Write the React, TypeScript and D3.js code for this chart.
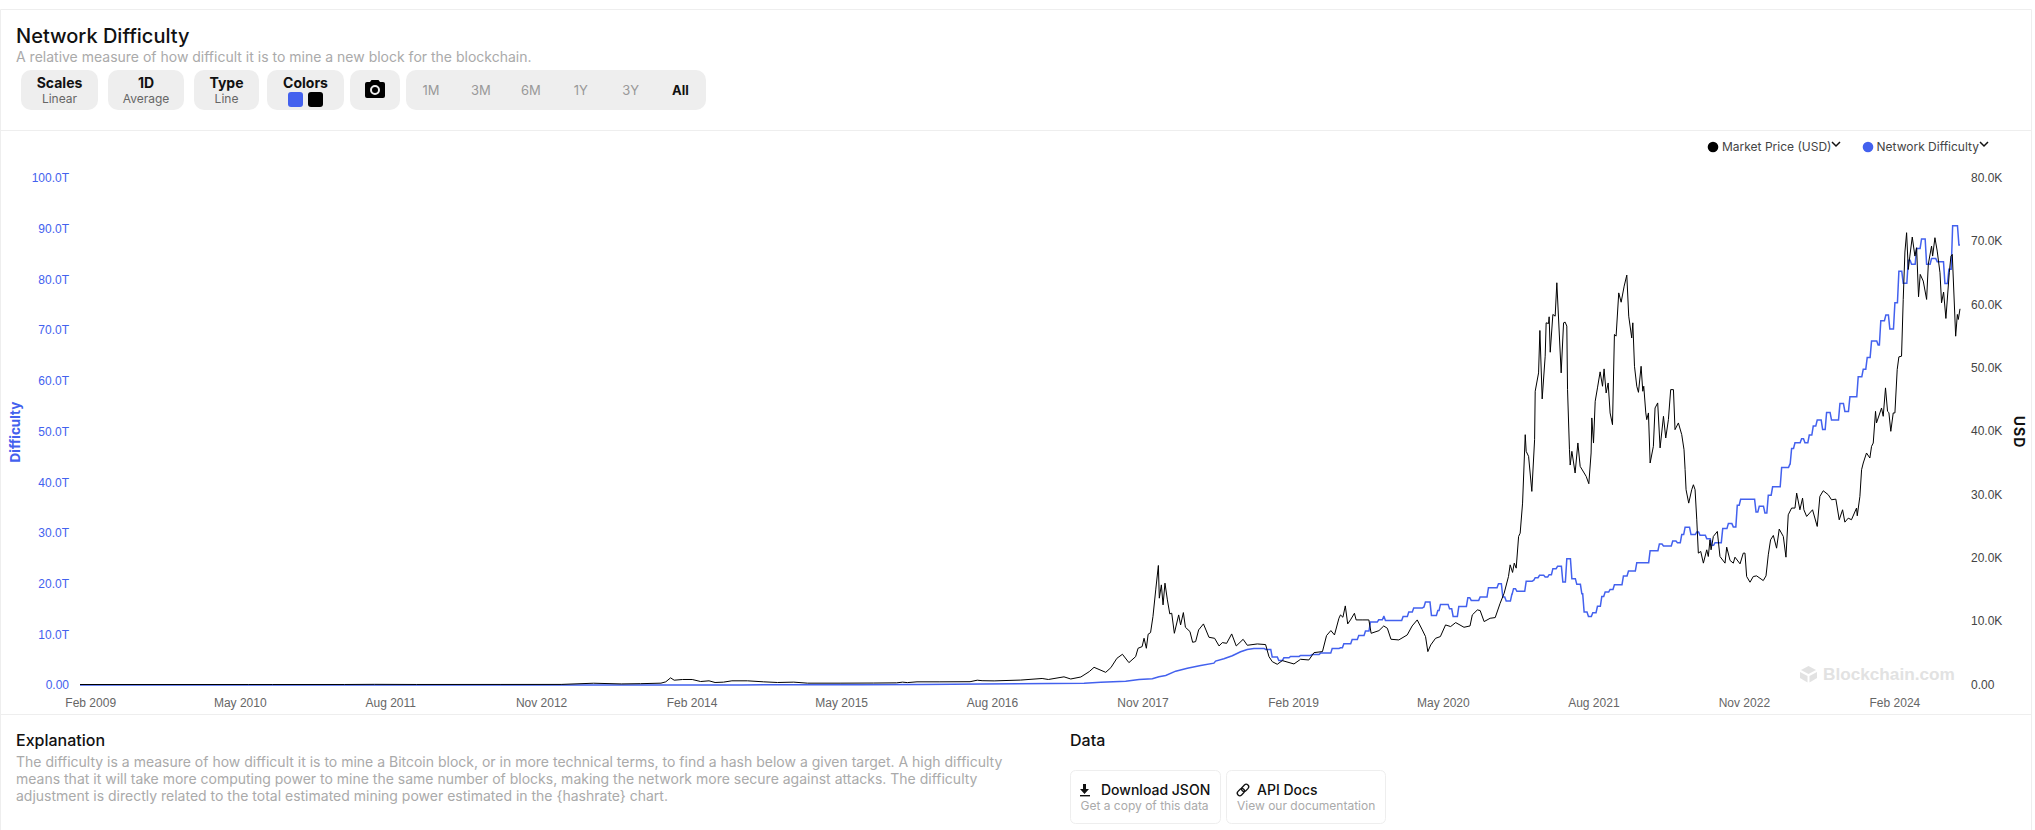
import * as React from 'react';
import * as d3 from 'd3';
import { useRef, useEffect } from 'react';

// Dates are kept as decimal years
const priceYears = [
  2009.0, 2010.4, 2010.6, 2011.2, 2011.45, 2011.8, 2012.5, 2013.0, 2013.27, 2013.5, 2013.66, 2013.83, 2013.87, 2013.91, 2013.94,
  2014.01, 2014.09, 2014.16, 2014.23, 2014.28, 2014.35, 2014.42, 2014.55, 2014.685, 2014.8, 2014.935, 2015.05, 2015.32, 2015.6, 2015.79,
  2015.84, 2015.88, 2015.96, 2016.15, 2016.4, 2016.46, 2016.5, 2016.6, 2016.82, 2016.998, 2017.05, 2017.18, 2017.236, 2017.32, 2017.39,
  2017.43, 2017.527, 2017.57, 2017.62, 2017.666, 2017.72, 2017.776, 2017.796, 2017.83, 2017.846, 2017.865, 2017.88, 2017.9, 2017.92, 2017.943,
  2017.965, 2017.973, 2017.99, 2018.004, 2018.02, 2018.04, 2018.06, 2018.076, 2018.098, 2018.134, 2018.15, 2018.173, 2018.19, 2018.228, 2018.25,
  2018.275, 2018.3, 2018.34, 2018.386, 2018.433, 2018.47, 2018.497, 2018.533, 2018.575, 2018.613, 2018.67, 2018.705, 2018.788, 2018.857, 2018.885,
  2018.913, 2018.954, 2018.996, 2019.093, 2019.148, 2019.217, 2019.26, 2019.33, 2019.364, 2019.4, 2019.43, 2019.467, 2019.48, 2019.5, 2019.52,
  2019.54, 2019.563, 2019.596, 2019.61, 2019.66, 2019.716, 2019.735, 2019.8, 2019.84, 2019.87, 2019.9, 2019.965, 2020.035, 2020.076, 2020.118,
  2020.16, 2020.187, 2020.206, 2020.23, 2020.27, 2020.31, 2020.353, 2020.395, 2020.437, 2020.506, 2020.556, 2020.575, 2020.617, 2020.64, 2020.673,
  2020.723, 2020.765, 2020.806, 2020.839, 2020.875, 2020.889, 2020.909, 2020.923, 2020.939, 2020.959, 2020.972, 2020.992, 2021.014, 2021.022, 2021.042,
  2021.069, 2021.092, 2021.097, 2021.125, 2021.136, 2021.155, 2021.18, 2021.188, 2021.208, 2021.213, 2021.222, 2021.244, 2021.263, 2021.277, 2021.313,
  2021.333, 2021.346, 2021.36, 2021.366, 2021.382, 2021.388, 2021.402, 2021.429, 2021.452, 2021.471, 2021.521, 2021.543, 2021.562, 2021.568, 2021.582,
  2021.596, 2021.615, 2021.637, 2021.657, 2021.67, 2021.687, 2021.704, 2021.72, 2021.74, 2021.756, 2021.77, 2021.792, 2021.812, 2021.837, 2021.859,
  2021.875, 2021.9, 2021.909, 2021.923, 2021.942, 2021.956, 2021.978, 2021.992, 2022.0, 2022.017, 2022.025, 2022.039, 2022.053, 2022.08, 2022.094,
  2022.116, 2022.136, 2022.164, 2022.183, 2022.205, 2022.224, 2022.247, 2022.26, 2022.288, 2022.316, 2022.335, 2022.344, 2022.352, 2022.374, 2022.399,
  2022.413, 2022.427, 2022.441, 2022.454, 2022.474, 2022.496, 2022.524, 2022.537, 2022.551, 2022.56, 2022.579, 2022.612, 2022.634, 2022.676, 2022.69,
  2022.718, 2022.745, 2022.759, 2022.801, 2022.828, 2022.842, 2022.856, 2022.884, 2022.911, 2022.939, 2022.994, 2023.017, 2023.036, 2023.055, 2023.078,
  2023.105, 2023.127, 2023.161, 2023.183, 2023.202, 2023.23, 2023.258, 2023.272, 2023.299, 2023.321, 2023.332, 2023.355, 2023.404, 2023.443, 2023.465,
  2023.493, 2023.535, 2023.562, 2023.598, 2023.626, 2023.654, 2023.673, 2023.701, 2023.728, 2023.77, 2023.776, 2023.798, 2023.812, 2023.826, 2023.853,
  2023.881, 2023.895, 2023.909, 2023.928, 2023.936, 2023.978, 2023.992, 2024.011, 2024.028, 2024.039, 2024.055, 2024.075, 2024.089, 2024.108, 2024.122,
  2024.144, 2024.158, 2024.172, 2024.186, 2024.2, 2024.213, 2024.233, 2024.255, 2024.269, 2024.285, 2024.299, 2024.324, 2024.352, 2024.366, 2024.393,
  2024.402, 2024.421, 2024.44, 2024.463, 2024.476, 2024.493, 2024.512, 2024.54, 2024.554, 2024.565, 2024.593, 2024.607, 2024.615, 2024.629,
];

const priceValues = [
  0, 0, 0.07, 1, 25, 3, 8, 14, 200, 90, 130, 210, 420, 1050, 680,
  790, 790, 470, 580, 316, 370, 580, 580, 420, 316, 370, 210, 210, 230, 260,
  370, 300, 420, 420, 440, 680, 600, 570, 700, 950, 790, 1210, 870, 1185, 2030,
  2710, 1920, 2660, 4130, 4770, 3450, 4400, 5715, 5980, 7300, 5715, 7930, 8190, 10720, 14930,
  18780, 13620, 15720, 12560, 15990, 13350, 11140, 11250, 8080, 10980, 9400, 11350, 9030, 8350, 6660,
  6770, 8610, 9560, 7450, 7290, 6080, 6610, 6500, 7980, 6080, 7130, 6190, 6400, 6300, 4400,
  3600, 3190, 3770, 3240, 3980, 3870, 5030, 5190, 7720, 8510, 7820, 10450, 10980, 10610, 12400,
  9560, 10190, 11240, 10190, 10190, 10190, 8080, 8500, 9240, 8870, 7140, 7030, 7820, 9240, 10190,
  8610, 7560, 5190, 6240, 7290, 7560, 9400, 9140, 9770, 9030, 9240, 10980, 11770, 11670, 9930,
  10450, 10560, 12825, 14400, 17040, 18880, 17680, 19150, 18360, 23360, 23880, 28620, 39420, 36790, 36000,
  30470, 38630, 46270, 49170, 55860, 45060, 51800, 57070, 56960, 58020, 52430, 58390, 58120, 63390, 49170,
  57070, 57180, 56550, 46530, 37040, 34630, 36790, 33370, 38110, 34420, 32840, 31680, 36530, 42060, 38100,
  44690, 46800, 49330, 47060, 49800, 46000, 47580, 42850, 41000, 55230, 54970, 61790, 60320, 62860, 64600,
  58120, 54680, 57070, 50210, 47060, 46100, 50210, 46270, 47060, 42850, 41790, 42850, 34950, 37580, 43630,
  44430, 37330, 42320, 38900, 41790, 46530, 46530, 40210, 41270, 39420, 37040, 33900, 30730, 28620, 30730,
  31520, 30730, 25990, 20730, 20990, 19150, 21250, 20200, 22830, 21250, 23360, 24150, 20200, 19150, 21670,
  19570, 19150, 20090, 19040, 20730, 20730, 17040, 16140, 17040, 17140, 16400, 17140, 20460, 22830, 23520,
  21510, 24520, 23360, 20090, 26780, 27840, 27840, 30200, 27570, 29410, 27570, 26520, 27570, 24940, 29680,
  30570, 29940, 29150, 29250, 25990, 27570, 25620, 26250, 26000, 27840, 26620, 29680, 33890, 34950, 36530,
  35740, 37580, 38100, 43100, 41270, 43630, 42320, 46800, 43100, 42900, 39950, 42850, 42850, 49690, 51700,
  51800, 60760, 68240, 71290, 65490, 67600, 70600, 67600, 68920, 61180, 64710, 63660, 60760, 66310, 69180,
  67600, 70500, 68390, 64970, 60230, 61920, 57760, 64970, 67600, 67860, 54960, 58390, 57600, 59280,
];

const difficultyYears = [
  2009.0, 2013.0, 2013.7, 2014.0, 2014.25, 2014.5, 2014.75, 2015.0, 2015.5, 2016.0, 2016.5, 2017.07, 2017.347, 2017.486, 2017.693,
  2017.804, 2017.915, 2017.97, 2018.026, 2018.109, 2018.206, 2018.317, 2018.427, 2018.441, 2018.51, 2018.58, 2018.649, 2018.704, 2018.76, 2018.857,
  2018.912, 2018.967, 2019.009, 2019.064, 2019.148, 2019.244, 2019.314, 2019.411, 2019.48, 2019.508, 2019.577, 2019.632, 2019.688, 2019.729, 2019.798,
  2019.84, 2019.854, 2020.001, 2020.048, 2020.089, 2020.172, 2020.186, 2020.236, 2020.289, 2020.311, 2020.386, 2020.416, 2020.463, 2020.538, 2020.566,
  2020.64, 2020.709, 2020.792, 2020.828, 2020.856, 2020.903, 2020.917, 2020.945, 2021.022, 2021.083, 2021.097, 2021.133, 2021.18, 2021.213, 2021.244,
  2021.283, 2021.327, 2021.36, 2021.402, 2021.443, 2021.485, 2021.504, 2021.54, 2021.576, 2021.615, 2021.651, 2021.679, 2021.72, 2021.756, 2021.831,
  2021.873, 2021.942, 2022.053, 2022.13, 2022.164, 2022.241, 2022.28, 2022.316, 2022.344, 2022.393, 2022.441, 2022.468, 2022.524, 2022.565, 2022.593,
  2022.657, 2022.704, 2022.745, 2022.778, 2022.806, 2022.934, 2022.961, 2023.008, 2023.036, 2023.072, 2023.147, 2023.216, 2023.23, 2023.258, 2023.313,
  2023.341, 2023.377, 2023.41, 2023.443, 2023.488, 2023.521, 2023.562, 2023.632, 2023.673, 2023.715, 2023.784, 2023.826, 2023.859, 2023.895, 2023.95,
  2023.972, 2024.014, 2024.047, 2024.089, 2024.122, 2024.158, 2024.2, 2024.227, 2024.269, 2024.31, 2024.352, 2024.393, 2024.44, 2024.504, 2024.537,
  2024.568, 2024.62, 2024.629,
];

const difficultyValues = [
  0, 0, 0.0001, 0.0015, 0.005, 0.017, 0.03, 0.04, 0.05, 0.1, 0.2, 0.3, 0.36, 0.56, 0.76,
  1.09, 1.22, 1.61, 1.88, 2.73, 3.32, 3.85, 4.31, 4.71, 5.17, 5.76, 6.55, 7.01, 7.21, 7.01,
  5.5, 4.84, 5.37, 5.63, 5.83, 6.02, 6.29, 7.21, 7.34, 8.13, 8.99, 9.78, 10.63, 12.41, 12.87,
  13.53, 12.74, 13.53, 14.39, 15.18, 15.37, 16.36, 13.73, 14.71, 15.9, 15.04, 13.53, 15.5, 17.22, 16.69,
  17.35, 19.19, 19.98, 17.35, 16.56, 17.88, 19.0, 18.47, 20.44, 20.64, 21.17, 21.63, 21.3, 21.76, 22.95,
  23.41, 20.31, 24.92, 20.97, 19.85, 18.0, 14.39, 13.53, 14.25, 15.51, 17.48, 18.34, 18.86, 19.78, 21.5,
  22.48, 24.13, 26.5, 27.82, 27.43, 28.41, 28.08, 29.66, 31.11, 29.66, 30.18, 29.53, 28.87, 27.55, 28.08,
  30.85, 31.83, 31.18, 35.45, 36.64, 34.14, 35.26, 33.94, 37.44, 39.08, 42.9, 43.57, 46.66, 47.78, 48.57,
  47.78, 49.29, 51.07, 52.25, 50.4, 53.76, 52.25, 55.54, 53.96, 56.86, 60.8, 62.3, 64.6, 67.85, 67.05,
  71.85, 72.97, 70.21, 75.41, 81.6, 79.23, 83.8, 83.0, 86.1, 87.97, 83.0, 84.1, 83.5, 79.2, 82.0,
  90.6, 86.8, 86.8,
];

const xTickDates = ['2009-02-01', '2010-05-01', '2011-08-01', '2012-11-01', '2014-02-01', '2015-05-01', '2016-08-01', '2017-11-01', '2019-02-01', '2020-05-01', '2021-08-01', '2022-11-01', '2024-02-01'];
const difficultyTicks = [0, 10, 20, 30, 40, 50, 60, 70, 80, 90, 100];
const priceTicks = [0, 10, 20, 30, 40, 50, 60, 70, 80];
const ranges = ['1M', '3M', '6M', '1Y', '3Y', 'All'];
const explanation = [
  'The difficulty is a measure of how difficult it is to mine a Bitcoin block, or in more technical terms, to find a hash below a given target. A high difficulty',
  'means that it will take more computing power to mine the same number of blocks, making the network more secure against attacks. The difficulty',
  'adjustment is directly related to the total estimated mining power estimated in the {hashrate} chart.',
];

const BLUE = '#4361ee';
const UI_FONT = 'Inter, sans-serif';
const AXIS_FONT = '"Liberation Sans", Arial, sans-serif';

const fromYear = (y: number) => {
  const whole = Math.floor(y);
  const start = Date.UTC(whole, 0, 1);
  const end = Date.UTC(whole + 1, 0, 1);
  return new Date(start + (y - whole) * (end - start));
};

const x = d3.scaleUtc().domain([fromYear(2009.0), fromYear(2024.629)]).range([80, 1960]);
const yLeft = d3.scaleLinear().domain([0, 100]).range([685, 178]);
const yRight = d3.scaleLinear().domain([0, 80]).range([684.5, 177.5]);

const pricePath = d3.line<number>()
  .x((_, i) => x(fromYear(priceYears[i])))
  .y(d => yRight(d / 1000))(priceValues) as string;

// Retargets show as short ramps; before 2018.85 the steps are too small to see, so join them straight
const difficultyPoints: [number, number][] = [];
difficultyYears.forEach((yr, i) => {
  if (i > 0 && yr > 2018.85) difficultyPoints.push([Math.max(yr - 0.012, difficultyYears[i - 1]), difficultyValues[i - 1]]);
  difficultyPoints.push([yr, difficultyValues[i]]);
});

const difficultyPath = d3.line<[number, number]>()
  .x(d => x(fromYear(d[0])))
  .y(d => yLeft(d[1]))(difficultyPoints) as string;

const Pill = (props: { x: number, w: number, title: string, sub?: string }) => (
  <g>
    <rect x={props.x} y={70} width={props.w} height={40} rx={10} fill="#eeeeee" />
    <text x={props.x + props.w / 2} y={88} textAnchor="middle" fontSize={14} fontWeight={700} fill="#111">{props.title}</text>
    {props.sub && <text x={props.x + props.w / 2} y={103} textAnchor="middle" fontSize={12} fill="#666">{props.sub}</text>}
  </g>
);

const Chevron = (props: { x: number, y: number }) => (
  <path d={`M${props.x - 4},${props.y - 2} L${props.x},${props.y + 2} L${props.x + 4},${props.y - 2}`} fill="none" stroke="#111" strokeWidth={1.5} />
);

export default function App() {
  const xAxisRef = useRef<SVGGElement>(null);
  const leftAxisRef = useRef<SVGGElement>(null);
  const rightAxisRef = useRef<SVGGElement>(null);

  useEffect(() => {
    const style = (sel: d3.Selection<SVGGElement, unknown, null, undefined>, fill: string) => {
      sel.select('.domain').remove();
      sel.selectAll('line').remove();
      sel.selectAll('text').attr('fill', fill).attr('font-family', AXIS_FONT).attr('font-size', 12);
    };

    const xAxis = d3.axisBottom<Date>(x)
      .tickValues(xTickDates.map(d => new Date(d)))
      .tickSize(0)
      .tickPadding(0)
      .tickFormat(d3.utcFormat('%b %Y') as any);
    style(d3.select(xAxisRef.current!).call(xAxis as any), '#666');

    const left = d3.axisLeft(yLeft)
      .tickValues(difficultyTicks)
      .tickSize(0)
      .tickPadding(0)
      .tickFormat(d => (+d === 0 ? '0.00' : `${(+d).toFixed(1)}T`));
    style(d3.select(leftAxisRef.current!).call(left as any), BLUE);

    const right = d3.axisRight(yRight)
      .tickValues(priceTicks)
      .tickSize(0)
      .tickPadding(0)
      .tickFormat(d => (+d === 0 ? '0.00' : `${(+d).toFixed(1)}K`));
    style(d3.select(rightAxisRef.current!).call(right as any), '#444');
  }, []);

  return (
    <svg width={2035} height={830} style={{ position: 'absolute', left: 0, top: 0, background: '#fff' }} fontFamily={UI_FONT}>
      {/* card borders */}
      <path d="M0.5,830 V9.5 H2031.5 V830" fill="none" stroke="#eeeeee" />
      <line x1={0} x2={2032} y1={130.5} y2={130.5} stroke="#eeeeee" />
      <line x1={0} x2={2032} y1={714.5} y2={714.5} stroke="#eeeeee" />

      {/* header */}
      <text x={16} y={43} fontSize={20} fontWeight={500} fill="#111">Network Difficulty</text>
      <text x={16} y={62} fontSize={14} fill="#aaaaaa">A relative measure of how difficult it is to mine a new block for the blockchain.</text>
      <Pill x={21} w={77} title="Scales" sub="Linear" />
      <Pill x={108} w={76} title="1D" sub="Average" />
      <Pill x={194} w={65} title="Type" sub="Line" />
      <Pill x={267} w={77} title="Colors" />
      <rect x={288} y={92} width={15} height={15} rx={3} fill={BLUE} />
      <rect x={308} y={92} width={15} height={15} rx={3} fill="#000" />
      <rect x={350} y={70} width={50} height={40} rx={10} fill="#eeeeee" />
      <path d="M365,84 a2,2 0 0 1 2,-2 h3 l1.5,-2 h7 l1.5,2 h3 a2,2 0 0 1 2,2 v12 a2,2 0 0 1 -2,2 h-16 a2,2 0 0 1 -2,-2 Z" fill="#000" />
      <circle cx={375} cy={90} r={4} fill="none" stroke="#eee" strokeWidth={2} />
      <rect x={406} y={70} width={300} height={40} rx={10} fill="#eeeeee" />
      {ranges.map((r, i) => (
        <text key={r} x={431 + i * 49.9} y={95} textAnchor="middle" fontSize={13} fontWeight={r === 'All' ? 700 : 400} fill={r === 'All' ? '#111' : '#999'}>{r}</text>
      ))}

      {/* legend */}
      <circle cx={1713} cy={147} r={5.3} fill="#000" />
      <text x={1722} y={151} fontSize={12} fill="#444">Market Price (USD)</text>
      <Chevron x={1836} y={144} />
      <circle cx={1868} cy={147} r={5.3} fill={BLUE} />
      <text x={1876.5} y={151} fontSize={12} fill="#444">Network Difficulty</text>
      <Chevron x={1984} y={144} />

      {/* axes */}
      <g ref={xAxisRef} transform="translate(0,698)" />
      <g ref={leftAxisRef} transform="translate(69,0)" />
      <g ref={rightAxisRef} transform="translate(1971,0)" />
      <text transform="translate(16,432) rotate(-90)" textAnchor="middle" fontSize={13.5} fontWeight={700} fill={BLUE} dominantBaseline="middle">Difficulty</text>
      <text transform="translate(2018,432) rotate(90)" textAnchor="middle" fontSize={14} fontWeight={700} letterSpacing={1} fill="#111" dominantBaseline="middle">USD</text>

      {/* watermark */}
      <g fill="#e2e2e2">
        <path d="M1808.5,666 L1816,670 L1808.5,674 L1801,670 Z" />
        <path d="M1800,672 L1807.5,676 V682.5 L1800,678 Z" />
        <path d="M1817,672 L1809.5,676 V682.5 L1817,678 Z" />
        <text x={1823} y={680} fontFamily={AXIS_FONT} fontSize={17.2} fontWeight={700}>Blockchain.com</text>
      </g>

      {/* series */}
      <path d={difficultyPath} fill="none" stroke={BLUE} strokeWidth={1.5} />
      <path d={pricePath} fill="none" stroke="#000" strokeWidth={1} />

      {/* footer */}
      <text x={16} y={746} fontSize={16} fontWeight={500} fill="#111">Explanation</text>
      {explanation.map((t, i) => (
        <text key={i} x={16} y={767 + i * 17} fontSize={14} fill="#aaaaaa">{t}</text>
      ))}
      <text x={1070} y={746} fontSize={16} fontWeight={500} fill="#111">Data</text>

      <rect x={1070.5} y={770.5} width={150} height={53} rx={5} fill="#fff" stroke="#eeeeee" />
      <path d="M1083,784 h3 v5 h3 l-4.5,5 l-4.5,-5 h3 Z" fill="#111" />
      <rect x={1080} y={795} width={10} height={1.4} fill="#111" />
      <text x={1101} y={795} fontSize={14} fontWeight={500} fill="#111">Download JSON</text>
      <text x={1080.5} y={810} fontSize={12} fill="#aaaaaa">Get a copy of this data</text>

      <rect x={1226.5} y={770.5} width={159} height={53} rx={5} fill="#fff" stroke="#eeeeee" />
      <g fill="none" stroke="#111" strokeWidth={1.3} transform="rotate(-45 1243 790)">
        <rect x={1236} y={787.5} width={8} height={5} rx={2.5} />
        <rect x={1242} y={787.5} width={8} height={5} rx={2.5} />
      </g>
      <text x={1257} y={795} fontSize={14} fontWeight={500} fill="#111">API Docs</text>
      <text x={1237} y={810} fontSize={12} fill="#aaaaaa">View our documentation</text>
    </svg>
  );
}
